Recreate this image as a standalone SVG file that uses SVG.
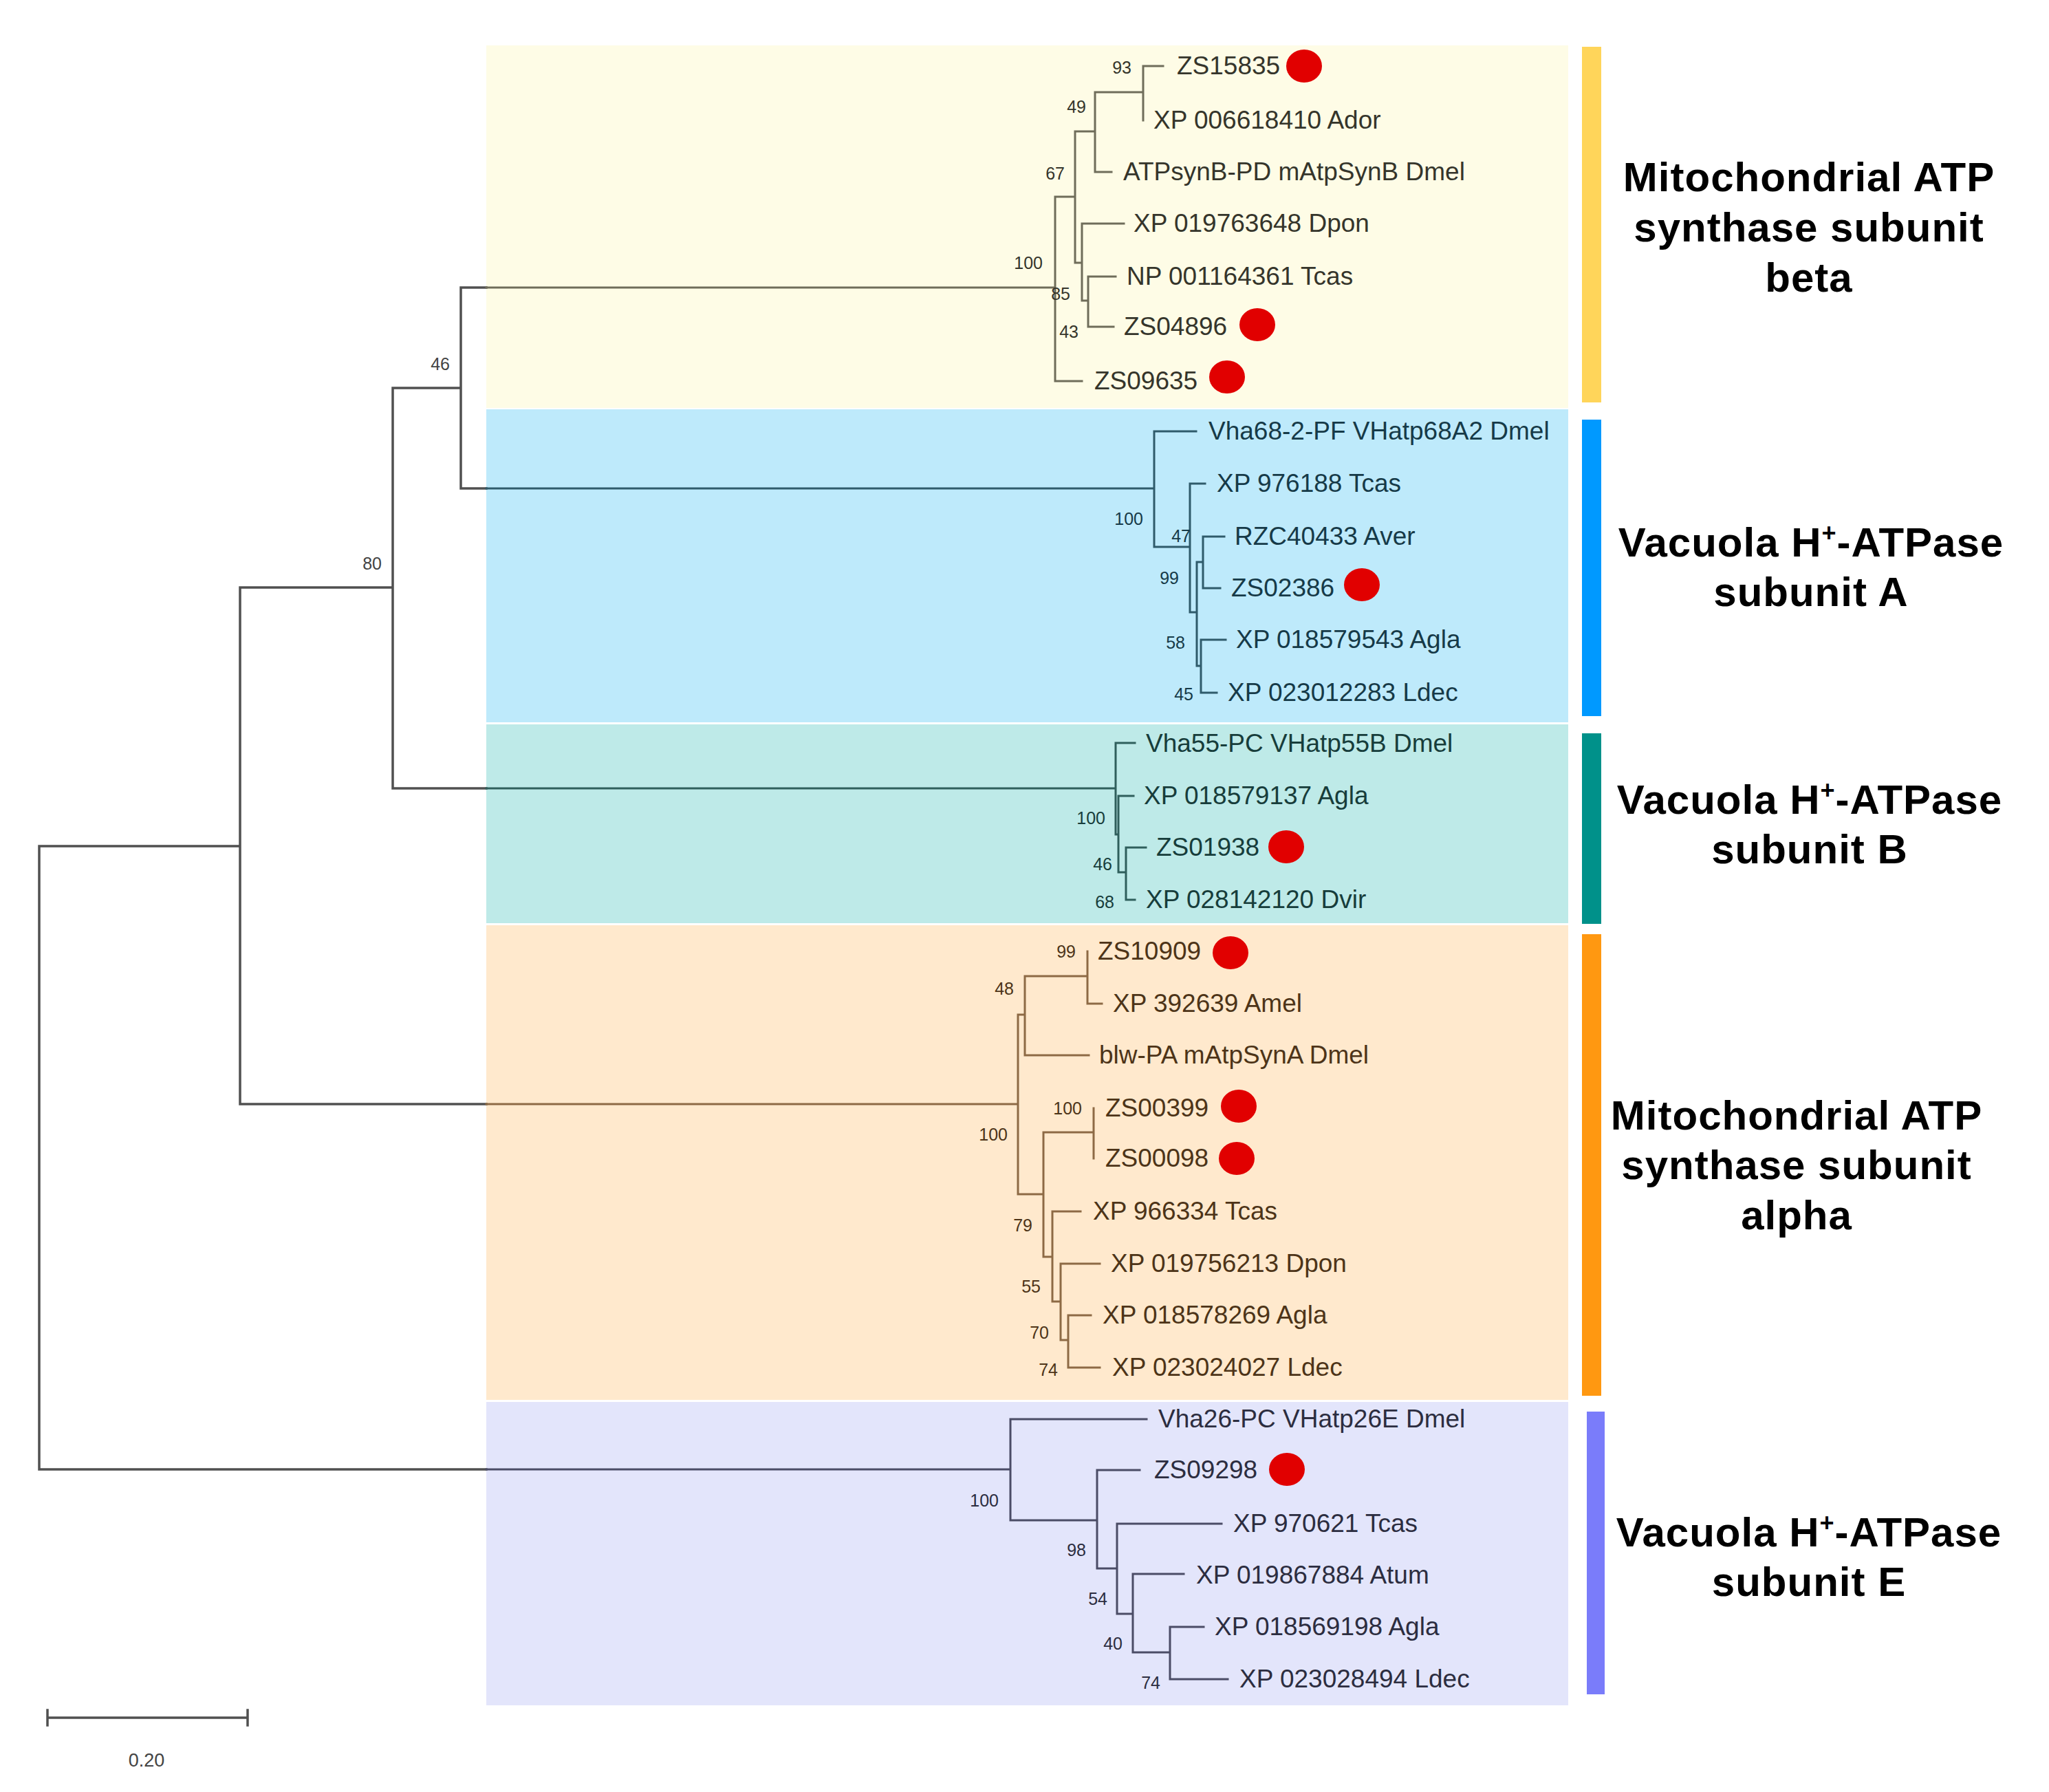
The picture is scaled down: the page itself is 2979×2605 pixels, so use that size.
<svg xmlns="http://www.w3.org/2000/svg" width="2979" height="2605" viewBox="0 0 2979 2605">
<style>
text{font-family:"Liberation Sans",Arial,sans-serif}
.leaf{font-size:37px}
.bs{font-size:25px}
.clade{font-size:60px;font-weight:bold;fill:#000;text-anchor:middle;letter-spacing:1px}
.sup{font-size:36px}
.dot{fill:#E10000}
.ln{fill:none;stroke-linecap:square}
.lm{stroke:#505050;stroke-width:3.5}
.ly{stroke:#6f6d5a;stroke-width:3}
.lb{stroke:#2f5b6b;stroke-width:3}
.lt{stroke:#2f5f5c;stroke-width:3}
.lo{stroke:#8d6a45;stroke-width:3}
.ll{stroke:#4b4c66;stroke-width:3}
.ty{fill:#35352b}
.tb{fill:#163a48}
.tt{fill:#173d3b}
.to{fill:#4d3418}
.tl{fill:#2c2d40}
.tm{fill:#444}
.bsl{text-anchor:end}
</style>
<rect x="0" y="0" width="2979" height="2605" fill="#ffffff"/>
<g id="panels">
<rect x="707" y="66" width="1573" height="527" fill="#FEFCE6"/>
<rect x="707" y="595" width="1573" height="455" fill="#BEEAFB"/>
<rect x="707" y="1053" width="1573" height="289" fill="#BEEAE8"/>
<rect x="707" y="1345" width="1573" height="690" fill="#FFE9CD"/>
<rect x="707" y="2038" width="1573" height="441" fill="#E3E5FB"/>
</g>
<g id="bars">
<rect x="2300" y="68" width="28" height="517" fill="#FFD55A"/>
<rect x="2300" y="610" width="28" height="431" fill="#0099FF"/>
<rect x="2300" y="1066" width="28" height="277" fill="#00918A"/>
<rect x="2300" y="1358" width="28" height="671" fill="#FF9811"/>
<rect x="2307" y="2052" width="26" height="411" fill="#7A7CFA"/>
</g>
<g id="connectors">
<path class="ln lm" d="M57 1230 V2136 M57 1230 H349 M57 2136 H707 M349 854 V1605 M349 854 H571 M349 1605 H707 M571 564 V1146 M571 564 H670 M571 1146 H707 M670 418 V710 M670 418 H707 M670 710 H707"/>
<path class="ln ly" d="M707 418 H1534 M1534 286 V554 M1534 286 H1563 M1534 554 H1573 M1563 191 V382 M1563 191 H1592 M1563 382 H1573 M1592 134 V250 M1592 134 H1662 M1592 250 H1616 M1662 96 V175 M1662 96 H1691 M1573 325 V437 M1573 325 H1634 M1573 437 H1582 M1582 402 V475 M1582 402 H1622 M1582 475 H1619"/>
<path class="ln lb" d="M707 710 H1678 M1678 627 V795 M1678 627 H1739 M1678 795 H1730 M1730 703 V890 M1730 703 H1752 M1730 890 H1740 M1740 817 V968 M1740 817 H1749 M1740 968 H1746 M1749 780 V855 M1749 780 H1780 M1749 855 H1774 M1746 930 V1007 M1746 930 H1782 M1746 1007 H1769"/>
<path class="ln lt" d="M707 1146 H1622 M1622 1080 V1213 M1622 1080 H1650 M1622 1213 H1626 M1626 1157 V1268 M1626 1157 H1648 M1626 1268 H1637 M1637 1232 V1308 M1637 1232 H1666 M1637 1308 H1650"/>
<path class="ln lo" d="M707 1605 H1480 M1480 1475 V1736 M1480 1475 H1490 M1480 1736 H1517 M1490 1419 V1534 M1490 1419 H1581 M1490 1534 H1583 M1581 1383 V1459 M1581 1459 H1602 M1517 1646 V1827 M1517 1646 H1590 M1517 1827 H1530 M1590 1611 V1684 M1530 1761 V1892 M1530 1761 H1571 M1530 1892 H1542 M1542 1837 V1948 M1542 1837 H1599 M1542 1948 H1553 M1553 1912 V1988 M1553 1912 H1586 M1553 1988 H1599"/>
<path class="ln ll" d="M707 2136 H1469 M1469 2063 V2210 M1469 2063 H1667 M1469 2210 H1595 M1595 2137 V2280 M1595 2137 H1657 M1595 2280 H1624 M1624 2215 V2346 M1624 2215 H1776 M1624 2346 H1647 M1647 2288 V2402 M1647 2288 H1721 M1647 2402 H1701 M1701 2365 V2441 M1701 2365 H1750 M1701 2441 H1785"/>
</g>
<g id="internal-nodes">
<g id="node-46"><text class="bs bsl tm" x="654" y="538">46</text></g>
<g id="node-80"><text class="bs bsl tm" x="555" y="828">80</text></g>
<g id="node-beta-93"><text class="bs bsl ty" x="1645" y="107">93</text></g>
<g id="node-beta-49"><text class="bs bsl ty" x="1579" y="164">49</text></g>
<g id="node-beta-67"><text class="bs bsl ty" x="1548" y="261">67</text></g>
<g id="node-beta-100"><text class="bs bsl ty" x="1516" y="391">100</text></g>
<g id="node-beta-85"><text class="bs bsl ty" x="1556" y="436">85</text></g>
<g id="node-beta-43"><text class="bs bsl ty" x="1568" y="491">43</text></g>
<g id="node-A-100"><text class="bs bsl tb" x="1662" y="763">100</text></g>
<g id="node-A-47"><text class="bs bsl tb" x="1731" y="788">47</text></g>
<g id="node-A-99"><text class="bs bsl tb" x="1714" y="849">99</text></g>
<g id="node-A-58"><text class="bs bsl tb" x="1723" y="943">58</text></g>
<g id="node-A-45"><text class="bs bsl tb" x="1735" y="1018">45</text></g>
<g id="node-B-100"><text class="bs bsl tt" x="1607" y="1198">100</text></g>
<g id="node-B-46"><text class="bs bsl tt" x="1617" y="1265">46</text></g>
<g id="node-B-68"><text class="bs bsl tt" x="1620" y="1320">68</text></g>
<g id="node-alpha-99"><text class="bs bsl to" x="1564" y="1392">99</text></g>
<g id="node-alpha-48"><text class="bs bsl to" x="1474" y="1446">48</text></g>
<g id="node-alpha-100a"><text class="bs bsl to" x="1573" y="1620">100</text></g>
<g id="node-alpha-100b"><text class="bs bsl to" x="1465" y="1658">100</text></g>
<g id="node-alpha-79"><text class="bs bsl to" x="1501" y="1790">79</text></g>
<g id="node-alpha-55"><text class="bs bsl to" x="1513" y="1879">55</text></g>
<g id="node-alpha-70"><text class="bs bsl to" x="1525" y="1946">70</text></g>
<g id="node-alpha-74"><text class="bs bsl to" x="1538" y="2000">74</text></g>
<g id="node-E-100"><text class="bs bsl tl" x="1452" y="2190">100</text></g>
<g id="node-E-98"><text class="bs bsl tl" x="1579" y="2262">98</text></g>
<g id="node-E-54"><text class="bs bsl tl" x="1610" y="2333">54</text></g>
<g id="node-E-40"><text class="bs bsl tl" x="1632" y="2398">40</text></g>
<g id="node-E-74"><text class="bs bsl tl" x="1687" y="2455">74</text></g>
</g>
<g id="leaves">
<g id="leaf-ZS15835"><text class="leaf ty" x="1711" y="108">ZS15835</text><ellipse class="dot" cx="1896" cy="96" rx="26" ry="24"/></g>
<g id="leaf-XP006618410"><text class="leaf ty" x="1677" y="187">XP 006618410 Ador</text></g>
<g id="leaf-ATPsynB"><text class="leaf ty" x="1633" y="262">ATPsynB-PD mAtpSynB Dmel</text></g>
<g id="leaf-XP019763648"><text class="leaf ty" x="1648" y="337">XP 019763648 Dpon</text></g>
<g id="leaf-NP001164361"><text class="leaf ty" x="1638" y="414">NP 001164361 Tcas</text></g>
<g id="leaf-ZS04896"><text class="leaf ty" x="1634" y="487">ZS04896</text><ellipse class="dot" cx="1828" cy="472" rx="26" ry="24"/></g>
<g id="leaf-ZS09635"><text class="leaf ty" x="1591" y="566">ZS09635</text><ellipse class="dot" cx="1784" cy="548" rx="26" ry="24"/></g>
<g id="leaf-Vha68"><text class="leaf tb" x="1757" y="639">Vha68-2-PF VHatp68A2 Dmel</text></g>
<g id="leaf-XP976188"><text class="leaf tb" x="1769" y="715">XP 976188 Tcas</text></g>
<g id="leaf-RZC40433"><text class="leaf tb" x="1795" y="792">RZC40433 Aver</text></g>
<g id="leaf-ZS02386"><text class="leaf tb" x="1790" y="867">ZS02386</text><ellipse class="dot" cx="1980" cy="850" rx="26" ry="24"/></g>
<g id="leaf-XP018579543"><text class="leaf tb" x="1797" y="942">XP 018579543 Agla</text></g>
<g id="leaf-XP023012283"><text class="leaf tb" x="1785" y="1019">XP 023012283 Ldec</text></g>
<g id="leaf-Vha55"><text class="leaf tt" x="1666" y="1093">Vha55-PC VHatp55B Dmel</text></g>
<g id="leaf-XP018579137"><text class="leaf tt" x="1663" y="1169">XP 018579137 Agla</text></g>
<g id="leaf-ZS01938"><text class="leaf tt" x="1681" y="1244">ZS01938</text><ellipse class="dot" cx="1870" cy="1231" rx="26" ry="24"/></g>
<g id="leaf-XP028142120"><text class="leaf tt" x="1666" y="1320">XP 028142120 Dvir</text></g>
<g id="leaf-ZS10909"><text class="leaf to" x="1596" y="1395">ZS10909</text><ellipse class="dot" cx="1789" cy="1385" rx="26" ry="24"/></g>
<g id="leaf-XP392639"><text class="leaf to" x="1618" y="1471">XP 392639 Amel</text></g>
<g id="leaf-blw"><text class="leaf to" x="1598" y="1546">blw-PA mAtpSynA Dmel</text></g>
<g id="leaf-ZS00399"><text class="leaf to" x="1607" y="1623">ZS00399</text><ellipse class="dot" cx="1801" cy="1608" rx="26" ry="24"/></g>
<g id="leaf-ZS00098"><text class="leaf to" x="1607" y="1696">ZS00098</text><ellipse class="dot" cx="1798" cy="1684" rx="26" ry="24"/></g>
<g id="leaf-XP966334"><text class="leaf to" x="1589" y="1773">XP 966334 Tcas</text></g>
<g id="leaf-XP019756213"><text class="leaf to" x="1615" y="1849">XP 019756213 Dpon</text></g>
<g id="leaf-XP018578269"><text class="leaf to" x="1603" y="1924">XP 018578269 Agla</text></g>
<g id="leaf-XP023024027"><text class="leaf to" x="1617" y="2000">XP 023024027 Ldec</text></g>
<g id="leaf-Vha26"><text class="leaf tl" x="1684" y="2075">Vha26-PC VHatp26E Dmel</text></g>
<g id="leaf-ZS09298"><text class="leaf tl" x="1678" y="2149">ZS09298</text><ellipse class="dot" cx="1871" cy="2136" rx="26" ry="24"/></g>
<g id="leaf-XP970621"><text class="leaf tl" x="1793" y="2227">XP 970621 Tcas</text></g>
<g id="leaf-XP019867884"><text class="leaf tl" x="1739" y="2302">XP 019867884 Atum</text></g>
<g id="leaf-XP018569198"><text class="leaf tl" x="1766" y="2377">XP 018569198 Agla</text></g>
<g id="leaf-XP023028494"><text class="leaf tl" x="1802" y="2453">XP 023028494 Ldec</text></g>
</g>
<g id="clade-labels">
<g id="label-beta"><text class="clade" x="2630" y="278">Mitochondrial ATP</text><text class="clade" x="2630" y="351">synthase subunit</text><text class="clade" x="2630" y="424">beta</text></g>
<g id="label-A"><text class="clade" x="2633" y="809">Vacuola H<tspan class="sup" dy="-22">+</tspan><tspan dy="22">-ATPase</tspan></text><text class="clade" x="2633" y="881">subunit A</text></g>
<g id="label-B"><text class="clade" x="2631" y="1183">Vacuola H<tspan class="sup" dy="-22">+</tspan><tspan dy="22">-ATPase</tspan></text><text class="clade" x="2631" y="1255">subunit B</text></g>
<g id="label-alpha"><text class="clade" x="2612" y="1642">Mitochondrial ATP</text><text class="clade" x="2612" y="1714">synthase subunit</text><text class="clade" x="2612" y="1787">alpha</text></g>
<g id="label-E"><text class="clade" x="2630" y="2248">Vacuola H<tspan class="sup" dy="-22">+</tspan><tspan dy="22">-ATPase</tspan></text><text class="clade" x="2630" y="2320">subunit E</text></g>
</g>
<g id="scale-bar">
<path class="ln lm" d="M69 2497 H360 M69 2486 V2508 M360 2486 V2508"/>
<text class="tm" x="213" y="2568" font-size="27" text-anchor="middle">0.20</text>
</g>
</svg>
